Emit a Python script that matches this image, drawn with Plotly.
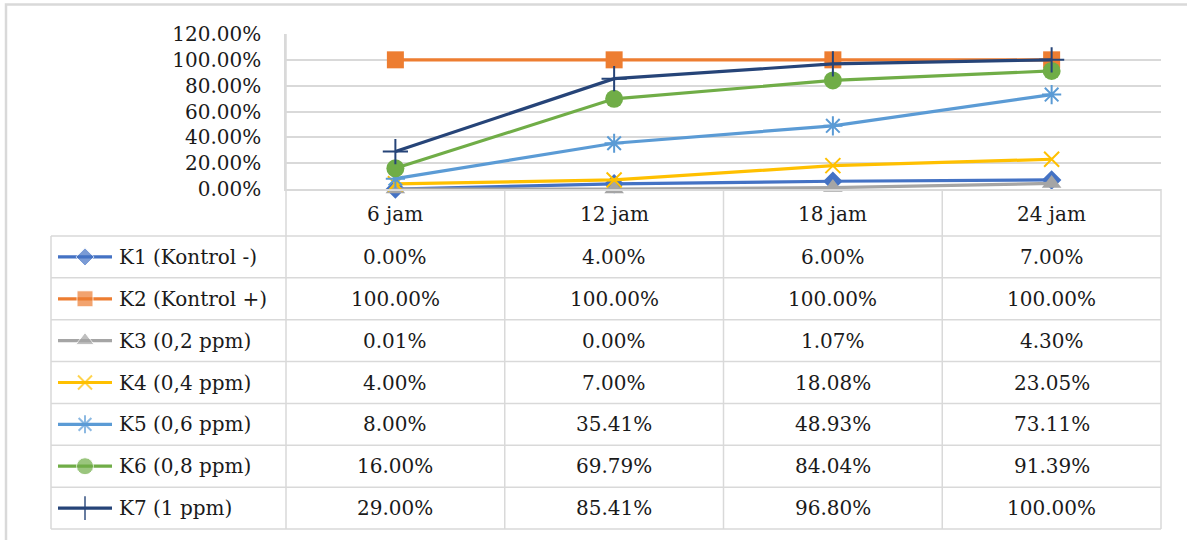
import plotly.graph_objects as go

# Sampling times and series (percent values)
categories = ["6 jam", "12 jam", "18 jam", "24 jam"]
series_names = ["K1 (Kontrol -)", "K2 (Kontrol +)", "K3 (0,2 ppm)", "K4 (0,4 ppm)",
                "K5 (0,6 ppm)", "K6 (0,8 ppm)", "K7 (1 ppm)"]
k1 = [0.00, 4.00, 6.00, 7.00]
k2 = [100.00, 100.00, 100.00, 100.00]
k3 = [0.01, 0.00, 1.07, 4.30]
k4 = [4.00, 7.00, 18.08, 23.05]
k5 = [8.00, 35.41, 48.93, 73.11]
k6 = [16.00, 69.79, 84.04, 91.39]
k7 = [29.00, 85.41, 96.80, 100.00]
series_values = [k1, k2, k3, k4, k5, k6, k7]
y_ticks = [0, 20, 40, 60, 80, 100, 120]

colors = ["#4472C4", "#ED7D31", "#A5A5A5", "#FFC000", "#5B9BD5", "#70AD47", "#264478"]
markers = [
    dict(symbol="diamond", size=15),
    dict(symbol="square", size=17),
    dict(symbol="triangle-up", size=17),
    dict(symbol="x-thin-open", size=15, line=dict(width=2)),
    dict(symbol="asterisk-open", size=16, line=dict(width=2)),
    dict(symbol="circle", size=18),
    dict(symbol="cross-thin-open", size=18, line=dict(width=2)),
]

W, H = 1187, 540
PX_L, PX_R, PX_T, PX_B = 286, 1161, 34, 189   # plot area in pixels
LEG_L = 51                                     # left edge of the data table
ROW_TOP = 236
ROW_H = (529 - 236) / 7
GRID = "#D9D9D9"
FONT = "DejaVu Serif"
TXT = "#1a1a1a"
FS = 20
CLEAR = "rgba(0,0,0,0)"

fig = go.Figure()

for name, vals, col, mk in zip(series_names, series_values, colors, markers):
    m = dict(mk)
    m["color"] = col
    if "line" in m:
        m["line"] = dict(m["line"], color=col)
    fig.add_trace(go.Scatter(
        x=categories, y=vals, name=name, mode="lines+markers",
        line=dict(color=col, width=3.2), marker=m, cliponaxis=False,
        showlegend=False, xaxis="x", yaxis="y"))

# Legend keys inside the data table (pixel-space overlay axes)
for i, (col, mk) in enumerate(zip(colors, markers)):
    cy = ROW_TOP + ROW_H * (i + 0.5)
    m = dict(mk)
    m["color"] = col
    m["size"] = [0, mk["size"] - 1, 0]
    if "line" in m:
        m["line"] = dict(m["line"], color=col)
    fig.add_trace(go.Scatter(
        x=[58, 85, 112], y=[cy, cy, cy], mode="lines+markers",
        line=dict(color=col, width=3.2), marker=m, cliponaxis=False,
        showlegend=False, hoverinfo="skip", xaxis="x2", yaxis="y2"))

shapes = []
def hline(y, x0, x1):
    shapes.append(dict(type="line", xref="x2", yref="y2", x0=x0, x1=x1, y0=y, y1=y,
                       line=dict(color=GRID, width=1.5), layer="below"))
def vline(x, y0, y1):
    shapes.append(dict(type="line", xref="x2", yref="y2", x0=x, x1=x, y0=y0, y1=y1,
                       line=dict(color=GRID, width=1.5), layer="below"))

# Chart border (top and left visible)
shapes.append(dict(type="rect", xref="x2", yref="y2", x0=6, x1=1200, y0=4.5, y1=560,
                   line=dict(color=GRID, width=2.5), layer="below"))

# Data table grid
col_w = (PX_R - PX_L) / len(categories)
for r in range(8):
    hline(ROW_TOP + ROW_H * r, LEG_L, PX_R)
vline(LEG_L, ROW_TOP, ROW_TOP + ROW_H * 7)
vline(PX_L, PX_T, ROW_TOP + ROW_H * 7)
for c in range(1, len(categories) + 1):
    vline(PX_L + col_w * c, PX_B, ROW_TOP + ROW_H * 7)

annotations = []
# Header row labels
for cat in categories:
    annotations.append(dict(x=cat, y=(PX_B + ROW_TOP) / 2 + 1, xref="x", yref="y2",
                            text=cat, showarrow=False, xanchor="center", yanchor="middle",
                            font=dict(family=FONT, size=FS, color=TXT)))
# Series names and values
for i, (name, vals) in enumerate(zip(series_names, series_values)):
    cy = ROW_TOP + ROW_H * (i + 0.5)
    annotations.append(dict(x=117, y=cy, xref="x2", yref="y2", text=name, showarrow=False,
                            xanchor="left", yanchor="middle",
                            font=dict(family=FONT, size=FS, color=TXT)))
    for cat, v in zip(categories, vals):
        annotations.append(dict(x=cat, y=cy, xref="x", yref="y2", text=f"{v:.2f}%",
                                showarrow=False, xanchor="center", yanchor="middle",
                                font=dict(family=FONT, size=FS, color=TXT)))

fig.update_layout(
    width=W, height=H,
    margin=dict(l=0, r=0, t=0, b=0, pad=0, autoexpand=False),
    paper_bgcolor="white", plot_bgcolor=CLEAR,
    font=dict(family=FONT, size=FS, color=TXT),
    xaxis=dict(domain=[PX_L / W, PX_R / W], type="category", showticklabels=False,
               showgrid=False, zeroline=False, showline=True, linecolor=GRID, linewidth=1.5,
               ticks="", range=[-0.5, 3.5], fixedrange=True, automargin=False),
    yaxis=dict(domain=[1 - PX_B / H, 1 - PX_T / H], range=[0, 120], tickvals=y_ticks,
               ticktext=[f"{t:.2f}%" for t in y_ticks], showgrid=True, gridcolor=GRID,
               gridwidth=1.5, zeroline=False, showline=True, linecolor=GRID, linewidth=1.5,
               ticks="", ticklabelstandoff=19, automargin=False,
               tickfont=dict(family=FONT, size=FS, color=TXT), fixedrange=True),
    xaxis2=dict(domain=[0, 1], range=[0, W], visible=False, fixedrange=True, automargin=False),
    yaxis2=dict(domain=[0, 1], range=[H, 0], visible=False, fixedrange=True, automargin=False),
    shapes=shapes, annotations=annotations,
)

fig.write_html("out.html")
